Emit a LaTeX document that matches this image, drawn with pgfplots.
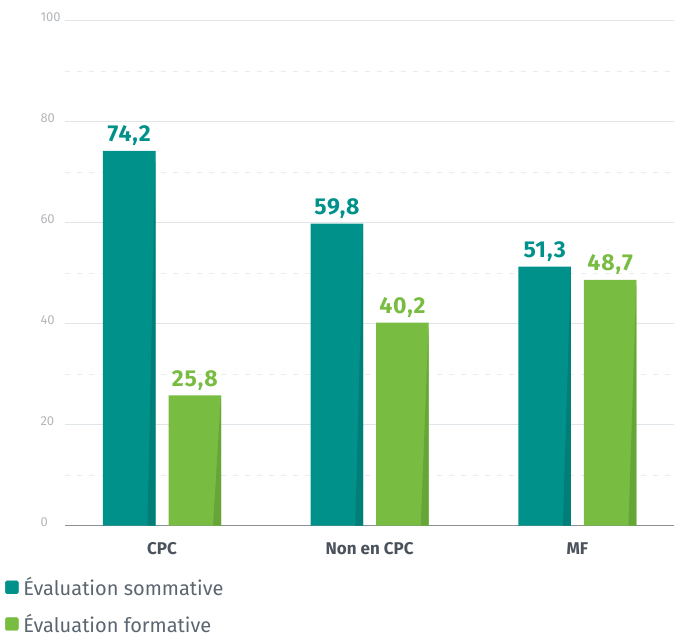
\documentclass[border=0pt]{standalone}
\usepackage{fontspec}
\setmainfont{Fira Sans}
\newfontfamily\valfont[LetterSpace=4]{Fira Sans}
\usepackage{pgfplots}
\pgfplotsset{compat=1.18}
\definecolor{tealbar}{HTML}{00928A}
\definecolor{tealdark}{HTML}{007E77}
\definecolor{greenbar}{HTML}{78BC42}
\definecolor{greendark}{HTML}{66A639}
\definecolor{ticklab}{HTML}{B2B7BC}
\definecolor{catlab}{HTML}{4A525B}
\definecolor{leglab}{HTML}{5B6670}
\definecolor{axisline}{HTML}{8C9196}
\definecolor{gridc}{HTML}{E0E5E9}
\begin{document}
\begin{tikzpicture}[x=1pt,y=1pt]
\useasboundingbox (0,0) rectangle (674,637);
\begin{axis}[
  at={(65pt,111.3pt)}, anchor=south west,
  scale only axis, width=609pt, height=505pt,
  xmin=-0.467, xmax=2.465, ymin=0, ymax=100,
  axis x line*=bottom, axis y line*=left,
  y axis line style={draw=none},
  x axis line style={color=axisline, line width=1.4pt},
  major tick length=0pt, minor tick length=0pt,
  xtick={0,1,2}, xticklabels={CPC, Non en CPC, MF},
  xticklabel style={font=\fontsize{17}{20}\selectfont\bfseries, text=catlab, yshift=-13pt},
  ytick={0,20,40,60,80,100},
  minor ytick={10,30,50,70,90},
  ymajorgrids, yminorgrids,
  major grid style={color=gridc, line width=0.9pt},
  minor grid style={color=gridc!70, line width=0.9pt, dash pattern=on 5pt off 7pt},
  /pgf/number format/assume math mode=true,
  yticklabel style={font=\fontsize{13}{15}\selectfont, text=ticklab, anchor=west, xshift=-28pt, yshift=4pt},
  clip=false,
  legend style={at={(axis description cs:-0.0986,-0.098)}, anchor=north west, draw=none, fill=none, inner sep=0pt, row sep=13pt, font=\fontsize{20}{23}\selectfont, text=leglab},
  legend cell align=left,
]
\addlegendimage{legend image code/.code={\fill[tealbar, rounded corners=1.5pt] (0pt,-6.5pt) rectangle (13pt,6.5pt); \path[draw=none, fill=none] (0pt,0pt) -- (16pt,0pt);}}
\addlegendentry{Évaluation sommative}
\addlegendimage{legend image code/.code={\fill[greenbar, rounded corners=1.5pt] (0pt,-6.5pt) rectangle (13pt,6.5pt); \path[draw=none, fill=none] (0pt,0pt) -- (16pt,0pt);}}
\addlegendentry{Évaluation formative}

\addplot[forget plot, ybar, bar width=52.5pt, bar shift=-32.75pt, fill=tealbar, draw=none,
  point meta=explicit symbolic, nodes near coords,
  every node near coord/.append style={anchor=south, inner sep=0pt, xshift=-32.75pt, yshift=5pt, text=tealbar, font=\fontsize{23}{26}\valfont\bfseries}]
  coordinates {(0,74.2) [74,2] (1,59.8) [59,8] (2,51.3) [51,3]};
\addplot[forget plot, ybar, bar width=52.5pt, bar shift=32.75pt, fill=greenbar, draw=none,
  point meta=explicit symbolic, nodes near coords,
  every node near coord/.append style={anchor=south, inner sep=0pt, xshift=32.75pt, yshift=5pt, text=greenbar, font=\fontsize{23}{26}\valfont\bfseries}]
  coordinates {(0,25.8) [25,8] (1,40.2) [40,2] (2,48.7) [48,7]};

% shadows (teal: right edge at -0.0313 from centre; green: +0.2841)
\addplot[forget plot, fill=tealdark, draw=none] coordinates {(-0.0313,74.2) (-0.0313,0) (-0.0698,0)} --cycle;
\addplot[forget plot, fill=tealdark, draw=none] coordinates {(0.9687,59.8) (0.9687,0) (0.9302,0)} --cycle;
\addplot[forget plot, fill=tealdark, draw=none] coordinates {(1.9687,51.3) (1.9687,0) (1.9302,0)} --cycle;
\addplot[forget plot, fill=greendark, draw=none] coordinates {(0.2841,25.8) (0.2841,0) (0.2456,0)} --cycle;
\addplot[forget plot, fill=greendark, draw=none] coordinates {(1.2841,40.2) (1.2841,0) (1.2456,0)} --cycle;
\addplot[forget plot, fill=greendark, draw=none] coordinates {(2.2841,48.7) (2.2841,0) (2.2456,0)} --cycle;
\end{axis}
\end{tikzpicture}
\end{document}
